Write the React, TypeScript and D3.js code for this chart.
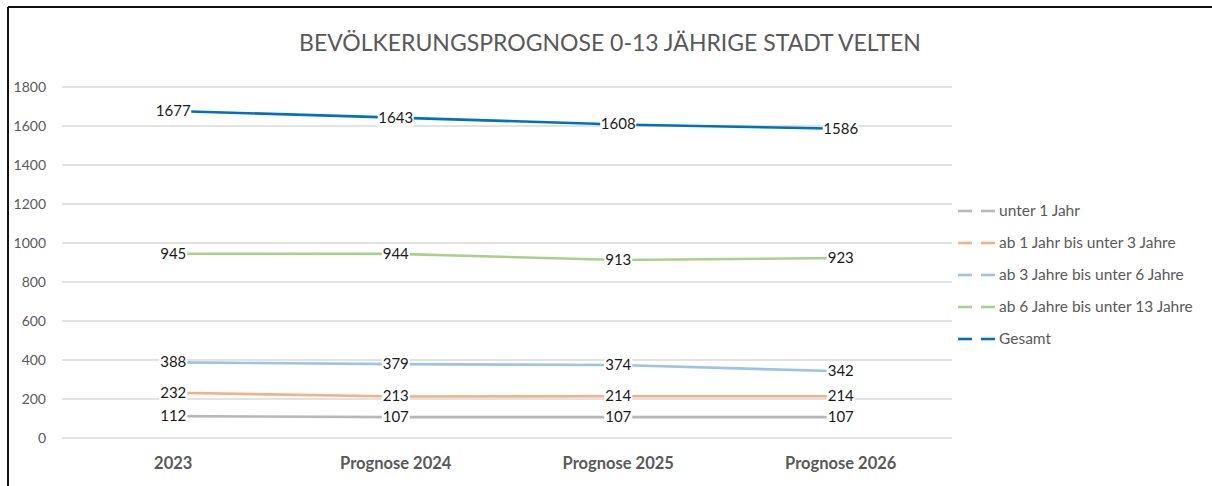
import React from "react";
import * as d3 from "d3";

// categories + series
const categories = ["2023", "Prognose 2024", "Prognose 2025", "Prognose 2026"];
const seriesNames = [
  "unter 1 Jahr",
  "ab 1 Jahr bis unter 3 Jahre",
  "ab 3 Jahre bis unter 6 Jahre",
  "ab 6 Jahre bis unter 13 Jahre",
  "Gesamt",
];
const unter1 = [112, 107, 107, 107];
const ab1bis3 = [232, 213, 214, 214];
const ab3bis6 = [388, 379, 374, 342];
const ab6bis13 = [945, 944, 913, 923];
const gesamt = [1677, 1643, 1608, 1586];
const yTicks = [0, 200, 400, 600, 800, 1000, 1200, 1400, 1600, 1800];
const title = "BEVÖLKERUNGSPROGNOSE 0-13 JÄHRIGE STADT VELTEN";

const colors = ["#B8B8B8", "#F4B183", "#9DC3E6", "#A9D18E", "#0070C0"];
const FONT = "Lato, 'Open Sans', sans-serif";

export default function App() {
  const width = 1212;
  const height = 486;
  const left = 62, right = 952, top = 87, bottom = 438;

  const seriesValues = [unter1, ab1bis3, ab3bis6, ab6bis13, gesamt];

  const xScale = d3.scaleBand<string>().domain(categories).range([left, right]).padding(0);
  const yScale = d3.scaleLinear().domain([0, 1800]).range([bottom, top]);
  const cx = (c: string) => (xScale(c) as number) + xScale.bandwidth() / 2;

  const line = d3
    .line<number>()
    .x((_, i) => cx(categories[i]))
    .y((d) => yScale(d));

  return (
    <svg width={width} height={height} style={{ position: "absolute", left: 0, top: 0, background: "#fff" }}>
      {/* frame: left + top edges */}
      <line x1={8} y1={7} x2={width} y2={7} stroke="#111" strokeWidth={2} />
      <line x1={8} y1={7} x2={8} y2={height} stroke="#111" strokeWidth={2} />

      <text x={610} y={51} textAnchor="middle" fontFamily={FONT} fontSize={23} fill="#595959">
        {title}
      </text>

      {/* grid */}
      {yTicks.map((t) => (
        <g key={t}>
          <line x1={left} x2={right} y1={yScale(t)} y2={yScale(t)} stroke="#D9D9D9" strokeWidth={1.5} />
          <text x={46} y={yScale(t) + 5} textAnchor="end" fontFamily={FONT} fontSize={14} fill="#595959">
            {t}
          </text>
        </g>
      ))}

      {/* x labels */}
      {categories.map((c) => (
        <text key={c} x={cx(c)} y={469} textAnchor="middle" fontFamily={FONT} fontSize={16.5} fontWeight="bold" fill="#595959">
          {c}
        </text>
      ))}

      {/* lines */}
      {seriesValues.map((vals, s) => (
        <path key={s} d={line(vals) || ""} fill="none" stroke={colors[s]} strokeWidth={2.6} />
      ))}

      {/* data labels with white boxes */}
      {seriesValues.map((vals, s) =>
        vals.map((v, i) => {
          const x = cx(categories[i]);
          const y = yScale(v);
          const w = String(v).length * 8 + 4;
          return (
            <g key={`${s}-${i}`}>
              <rect x={x - w / 2} y={y - 9} width={w} height={18} fill="#fff" />
              <text x={x} y={y + 5} textAnchor="middle" fontFamily={FONT} fontSize={15} fill="#1a1a1a">
                {v}
              </text>
            </g>
          );
        })
      )}

      {/* legend */}
      {seriesNames.map((name, i) => {
        const y = 211 + i * 32;
        return (
          <g key={name}>
            <line x1={958} x2={972} y1={y} y2={y} stroke={colors[i]} strokeWidth={2.6} />
            <line x1={981} x2={995} y1={y} y2={y} stroke={colors[i]} strokeWidth={2.6} />
            <text x={999} y={y + 5} fontFamily={FONT} fontSize={15.5} fill="#595959">
              {name}
            </text>
          </g>
        );
      })}
    </svg>
  );
}
